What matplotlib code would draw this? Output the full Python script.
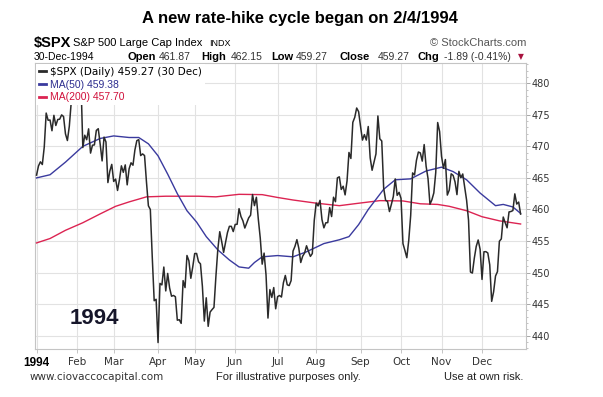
import numpy as np
import pandas as pd
import matplotlib
matplotlib.use('Agg')
import matplotlib.pyplot as plt
from matplotlib.ticker import FixedLocator, MultipleLocator

# $SPX daily closes 1994, one list per month
closes_jan = [465.44, 466.89, 467.55, 467.12, 469.90, 475.27, 474.13, 474.17, 472.47, 474.91,
              473.30, 474.25, 474.30, 474.98, 474.72, 471.97, 470.92, 473.20, 477.05, 478.70, 481.61]
closes_feb = [479.62, 482.00, 480.71, 469.81, 471.76, 471.05, 472.77, 468.93, 470.18, 470.23,
              472.52, 472.79, 470.34, 467.69, 471.46, 470.69, 464.26, 466.07, 467.14]
closes_mar = [464.44, 464.81, 463.01, 464.74, 466.91, 465.88, 467.06, 463.90, 466.44, 467.39,
              467.01, 469.42, 470.90, 471.06, 468.54, 468.80, 468.54, 464.35, 460.58, 460.00,
              452.48, 445.55, 445.77]
closes_apr = [438.92, 448.29, 448.05, 450.88, 447.10, 449.87, 447.57, 446.26, 446.38, 446.18,
              442.46, 442.54, 441.96, 448.73, 447.63, 452.71, 451.87, 449.10, 450.91]
closes_may = [453.02, 453.03, 451.72, 451.38, 447.82, 442.32, 446.01, 441.49, 443.75, 444.14,
              444.49, 449.37, 453.69, 456.48, 454.92, 453.20, 454.81, 456.34, 457.33, 457.33, 456.50]
closes_jun = [457.63, 457.65, 460.13, 458.88, 458.21, 457.06, 457.86, 458.67, 459.10, 462.37,
              460.61, 461.93, 458.45, 455.48, 451.34, 453.09, 449.63, 442.80, 447.31, 446.07,
              447.63, 444.27]
closes_jul = [446.20, 446.37, 446.13, 448.38, 449.55, 448.06, 447.95, 448.73, 453.41, 454.16,
              455.22, 453.86, 451.60, 452.61, 453.11, 454.25, 453.36, 452.57, 453.02, 458.26]
closes_aug = [461.01, 460.56, 461.45, 458.40, 457.09, 457.89, 457.92, 460.30, 458.88, 461.94,
              461.23, 465.01, 465.17, 463.17, 463.68, 462.31, 464.51, 469.03, 468.08, 473.80,
              474.59, 476.07, 475.49]
closes_sep = [473.17, 470.99, 471.86, 470.99, 473.14, 468.18, 466.21, 467.51, 468.80, 474.81,
              471.19, 470.85, 463.36, 461.46, 461.27, 459.67, 460.82, 462.05, 464.84, 462.24, 462.71]
closes_oct = [461.74, 454.59, 453.52, 452.36, 455.10, 459.04, 465.79, 465.47, 467.79, 469.10,
              468.96, 467.66, 470.28, 466.85, 464.89, 460.83, 461.53, 462.62, 465.85, 473.77, 472.35]
closes_nov = [468.42, 466.51, 467.91, 462.28, 463.07, 465.65, 465.40, 464.37, 462.35, 466.04,
              465.03, 465.62, 463.57, 461.47, 458.30, 450.09, 449.93, 452.29, 454.16, 455.17, 453.69]
closes_dec = [448.92, 453.30, 453.32, 453.11, 451.23, 445.45, 446.95, 449.47, 450.15, 454.97,
              455.34, 458.80, 457.91, 457.10, 459.61, 459.68, 459.83, 462.47, 460.86, 461.17, 459.27]

market_holidays = ['1994-02-21', '1994-04-01', '1994-04-27', '1994-05-30',
                   '1994-07-04', '1994-09-05', '1994-11-24', '1994-12-26']

# moving averages
ma50_dates = ['1994-01-03', '1994-01-12', '1994-01-24', '1994-02-04', '1994-02-17', '1994-03-01',
              '1994-03-11', '1994-03-18', '1994-03-25', '1994-04-04', '1994-04-11', '1994-04-18',
              '1994-04-25', '1994-05-03', '1994-05-10', '1994-05-18', '1994-05-26', '1994-06-03',
              '1994-06-10', '1994-06-15', '1994-06-21', '1994-07-01', '1994-07-14', '1994-07-25',
              '1994-08-05', '1994-08-17', '1994-08-24', '1994-08-31', '1994-09-08', '1994-09-20',
              '1994-09-28', '1994-10-10', '1994-10-20', '1994-11-01', '1994-11-09', '1994-11-18',
              '1994-11-30', '1994-12-12', '1994-12-16', '1994-12-23', '1994-12-30']
ma50_values = [465.0, 465.5, 467.5, 470.0, 471.25, 471.65,
               471.4, 471.4, 470.4, 468.5, 465.6, 462.5,
               459.8, 458.0, 455.7, 453.6, 452.0, 450.9,
               450.7, 451.6, 452.5, 452.7, 452.5, 453.3,
               454.6, 455.2, 455.7, 457.6, 460.0, 463.2,
               464.7, 464.85, 466.1, 466.7, 466.0, 464.7,
               462.6, 460.6, 460.8, 460.4, 459.38]

ma200_dates = ['1994-01-03', '1994-01-12', '1994-01-24', '1994-02-04', '1994-02-17', '1994-03-02',
               '1994-03-11', '1994-03-24', '1994-04-08', '1994-05-04', '1994-05-17', '1994-06-03',
               '1994-06-21', '1994-07-01', '1994-07-14', '1994-08-01', '1994-08-17', '1994-08-30',
               '1994-09-16', '1994-10-04', '1994-10-17', '1994-10-28', '1994-11-07', '1994-11-18',
               '1994-12-01', '1994-12-14', '1994-12-30']
ma200_values = [454.7, 455.4, 456.7, 457.9, 459.3, 460.5,
                461.2, 462.0, 462.1, 462.1, 462.0, 462.4,
                462.35, 461.9, 461.5, 461.0, 460.6, 460.95,
                461.4, 461.35, 460.9, 460.8, 460.5, 459.8,
                458.85, 458.2, 457.70]

month_labels = ['1994', 'Feb', 'Mar', 'Apr', 'May', 'Jun', 'Jul', 'Aug', 'Sep', 'Oct', 'Nov', 'Dec']
y_ticks = [440, 445, 450, 455, 460, 465, 470, 475, 480]

quote_open, quote_high, quote_low, quote_close = '461.87', '462.15', '459.27', '459.27'
quote_chg = '-1.89 (-0.41%)'

closes = (closes_jan + closes_feb + closes_mar + closes_apr + closes_may + closes_jun +
          closes_jul + closes_aug + closes_sep + closes_oct + closes_nov + closes_dec)
dates = pd.bdate_range('1994-01-03', '1994-12-30').drop(pd.to_datetime(market_holidays))
day_idx = pd.Series(np.arange(len(dates)), index=dates)
month_pos = [day_idx[dates[dates.month == m][0]] for m in range(1, 13)]
ma50_x = day_idx[pd.to_datetime(ma50_dates)].values
ma200_x = day_idx[pd.to_datetime(ma200_dates)].values

W, H = 603, 397
fig = plt.figure(figsize=(W / 100, H / 100), dpi=100)
fx = lambda px: px / W
fy = lambda py: 1 - py / H

ax = fig.add_axes([fx(35), fy(349), fx(526) - fx(35), fy(63) - fy(349)])
ax.plot(ma200_x, ma200_values, color='#dc2452', lw=1.0, label='MA(200) 457.70', zorder=3)
ax.plot(ma50_x, ma50_values, color='#3a3a9e', lw=1.0, label='MA(50) 459.38', zorder=3)
ax.plot(np.arange(len(closes)), closes, color='#2a2a2a', lw=1.1,
        label='$SPX (Daily) 459.27 (30 Dec)', zorder=4)

ax.set_xlim(-0.8, 253.8)
ax.set_ylim(437.9, 483.2)
ax.xaxis.set_major_locator(FixedLocator(month_pos))
ax.set_xticklabels(month_labels, fontsize=7.5, color='#333333', family='DejaVu Sans')
lbl0 = ax.get_xticklabels()[0]
lbl0.set_fontweight('bold')
lbl0.set_fontsize(8.5)
lbl0.set_family('Liberation Sans')
lbl0.set_color('black')
ax.yaxis.tick_right()
ax.set_yticks(y_ticks)
ax.set_yticklabels([str(v) for v in y_ticks], fontsize=7, color='#333333')
ax.yaxis.set_minor_locator(MultipleLocator(1))
ax.tick_params(axis='y', which='major', length=3, width=0.6, color='#999999', pad=1)
ax.tick_params(axis='y', which='minor', length=1.5, width=0.5, color='#aaaaaa')
ax.tick_params(axis='x', length=3, width=0.6, color='#bbbbbb', pad=3)
ax.grid(True, color='#e2e2e2', lw=0.8)
ax.set_axisbelow(True)
for s in ax.spines.values():
    s.set_color('#c4c4c4')
    s.set_linewidth(0.8)

handles, labels = ax.get_legend_handles_labels()
leg = ax.legend(handles[::-1], labels[::-1], loc='upper left', bbox_to_anchor=(0.0, 1.0),
                fontsize=7.5, handlelength=0.7, handletextpad=0.4, labelspacing=0.28,
                borderpad=0.25, borderaxespad=0.1, frameon=True, fancybox=False)
leg.get_frame().set_facecolor('white')
leg.get_frame().set_edgecolor('none')
leg.get_frame().set_alpha(1)
leg.set_zorder(10)
txt_colors = ['black', '#2d2d8f', '#d0103a']
for t, c in zip(leg.get_texts(), txt_colors):
    t.set_color(c)
for t in leg.get_texts()[1:]:
    t.set_family('Liberation Sans')
    t.set_fontsize(7.5)
for h in leg.get_lines():
    h.set_linewidth(2.0)

fig.text(fx(70), fy(318), '1994', fontsize=16, fontweight='bold', color='#16162a',
         family='Liberation Sans', va='center', ha='left')

# header
fig.text(fx(300), fy(18), 'A new rate-hike cycle began on 2/4/1994', fontsize=12,
         fontweight='bold', family='Liberation Sans', ha='center', va='center')
fig.text(fx(34), fy(43), '$SPX', fontsize=10.5, fontweight='bold', family='Liberation Sans',
         va='center', ha='left')
fig.text(fx(73), fy(43), 'S&P 500 Large Cap Index', fontsize=8, family='Liberation Sans',
         va='center', ha='left')
fig.text(fx(209), fy(43.5), 'INDX', fontsize=6.5, family='Liberation Sans', va='center', ha='left')
fig.text(fx(526), fy(43), '\u00a9 StockCharts.com', fontsize=8, color='#555555',
         family='Liberation Sans', va='center', ha='right')
fig.text(fx(34), fy(56.5), '30-Dec-1994', fontsize=7.5, family='Liberation Sans',
         va='center', ha='left')
quote_parts = [('Open', True, 127), (quote_open, False, 159), ('High', True, 201),
               (quote_high, False, 231), ('Low', True, 271), (quote_low, False, 296),
               ('Close', True, 340), (quote_close, False, 378), ('Chg', True, 418),
               (quote_chg, False, 444)]
for s, bold, px in quote_parts:
    fig.text(fx(px), fy(56.5), s, fontsize=8 if bold else 7.5,
             fontweight='bold' if bold else 'normal', color='black' if bold else '#333333',
             family='Liberation Sans', va='center', ha='left')
fig.text(fx(518), fy(57), '\u25bc', fontsize=5.5, color='#a8123e', va='center', ha='left')

# footer
fig.text(fx(30), fy(377), 'www.ciovaccocapital.com', fontsize=7.5, color='#333333',
         family='DejaVu Sans', va='center', ha='left')
fig.text(fx(216), fy(377), 'For illustrative purposes only.', fontsize=8, color='#222222',
         family='Liberation Sans', va='center', ha='left')
fig.text(fx(523), fy(377), 'Use at own risk.', fontsize=8, color='#222222',
         family='Liberation Sans', va='center', ha='right')

fig.savefig('out.png', dpi=100)
